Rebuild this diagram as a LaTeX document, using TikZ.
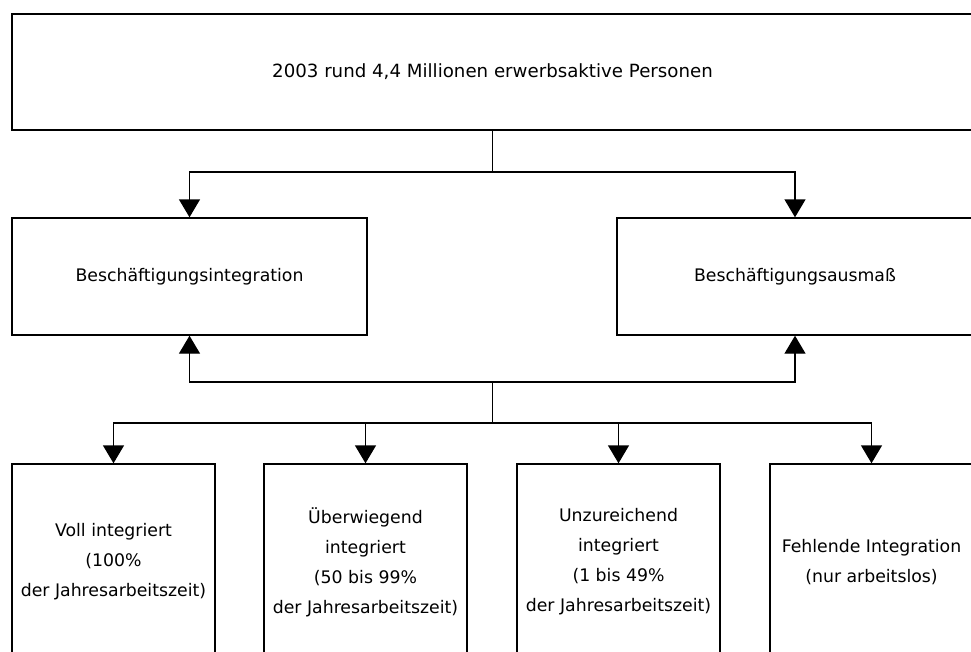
\documentclass[tikz,border=0pt]{standalone}
\usepackage{fontspec}
\setmainfont{DejaVu Sans}
\usetikzlibrary{arrows.meta}

\begin{document}
\begin{tikzpicture}[x=1pt,y=-1pt,
  box/.style={draw,line width=1.4pt,inner sep=0pt,align=center,
    font=\fontsize{17.3}{30}\selectfont},
  arr/.style={line width=1.4pt,-{Triangle[width=21pt,length=18pt]}},
  conn/.style={line width=1.4pt}]
% --- page size like the reference, boxes on the right run over the edge
\useasboundingbox (0,0) rectangle (971,651);

% --- top box
\node[box,minimum width=961pt,minimum height=116pt,
  font=\fontsize{18.2}{30}\selectfont] (total) at (492.5,72)
  {2003 rund 4,4 Millionen erwerbsaktive Personen};

% --- middle row
\node[box,minimum width=355pt,minimum height=117pt] (integ) at (189.5,276.5)
  {Beschäftigungsintegration};
\node[box,minimum width=356pt,minimum height=117pt] (ausmass) at (795,276.5)
  {Beschäftigungsausmaß};

% --- bottom row (runs below the page)
\node[box,minimum width=203pt,minimum height=196pt] (voll) at (113.5,562)
  {Voll integriert\\(100\%\\der Jahresarbeitszeit)};
\node[box,minimum width=203pt,minimum height=196pt] (ueber) at (365.5,562)
  {Überwiegend\\integriert\\(50 bis 99\%\\der Jahresarbeitszeit)};
\node[box,minimum width=203pt,minimum height=196pt] (unzu) at (618.5,562)
  {Unzureichend\\integriert\\(1 bis 49\%\\der Jahresarbeitszeit)};
\node[box,minimum width=203pt,minimum height=196pt] (fehl) at (871.5,562)
  {Fehlende Integration\\(nur arbeitslos)};

% --- top box splits to the two middle boxes
\coordinate (split) at (total.south |- 0,172);
\draw[conn] (total.south) -- (split);
\draw[arr] (split) -| (integ.north);
\draw[arr] (split) -| (ausmass.north);

% --- bottom boxes feed back up into the middle boxes
\coordinate (join) at (total.south |- 0,382);
\coordinate (fan) at (total.south |- 0,423);
\draw[arr] (join) -| (integ.south);
\draw[arr] (join) -| (ausmass.south);
\draw[conn] (join) -- (fan);
\draw[arr] (fan) -| (voll.north);
\draw[arr] (fan) -| (ueber.north);
\draw[arr] (fan) -| (unzu.north);
\draw[arr] (fan) -| (fehl.north);

\end{tikzpicture}
\end{document}
